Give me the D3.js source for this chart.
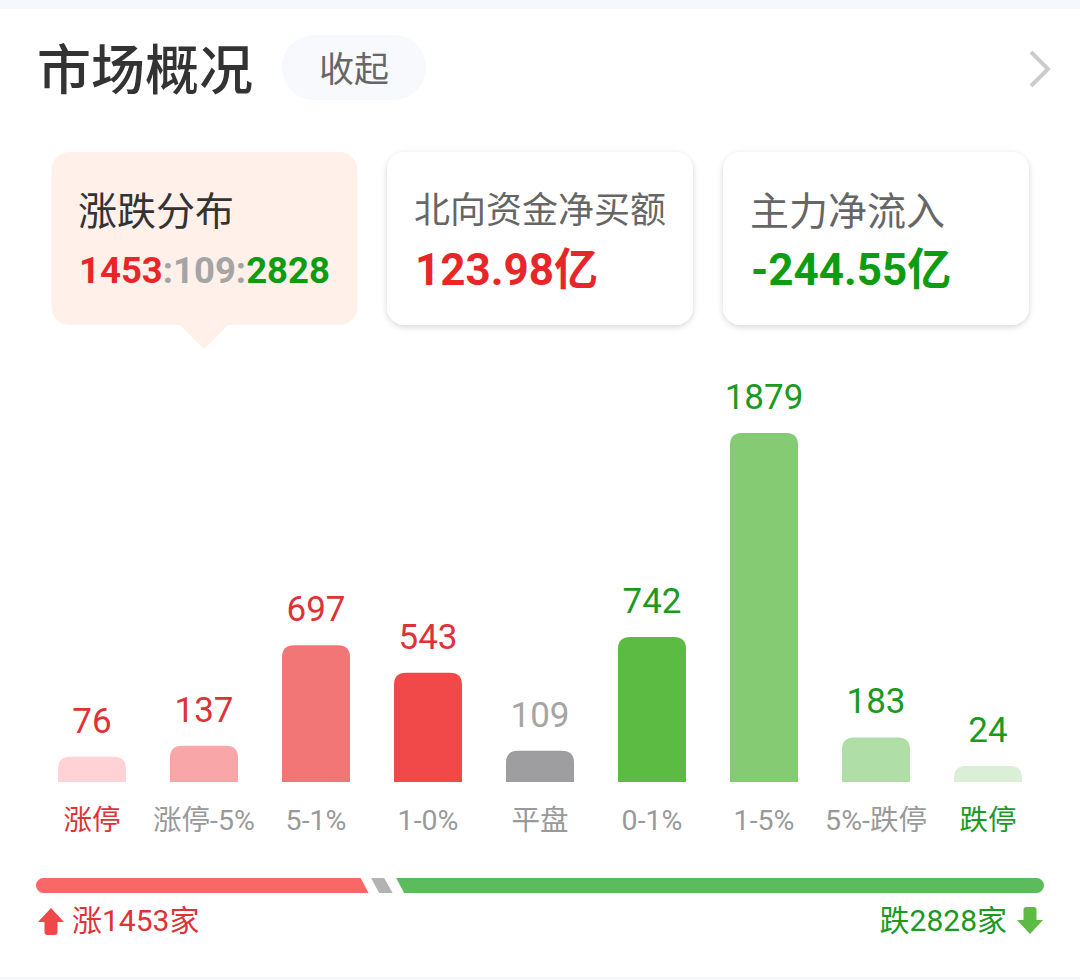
<!DOCTYPE html>
<html>
<head>
<meta charset="utf-8">
<script src="https://cdn.jsdelivr.net/npm/d3@7"></script>
<style>
  html, body { margin: 0; padding: 0; background: #fff; }
  svg { display: block; }
  text { font-family: Roboto, "Noto Sans CJK SC", sans-serif; }
</style>
</head>
<body>
<div id="chart"></div>
<script>
const categories = ['涨停', '涨停-5%', '5-1%', '1-0%', '平盘', '0-1%', '1-5%', '5%-跌停', '跌停'];
const counts = [76, 137, 697, 543, 109, 742, 1879, 183, 24];
const breadth = [1453, 109, 2828];
const northbound = '123.98亿';
const mainFlow = '-244.55亿';

const RED = '#e8262a';
const SOFT_RED = '#de3237';
const GREEN = '#0d9c12';
const SOFT_GREEN = '#1a9a1f';
const GREY = '#a5a5a5';
const barColors = ['#ffd3d6', '#f9a6a8', '#f27675', '#f1484a', '#9e9da0', '#5cbb43', '#85cb73', '#afdfa6', '#daefd6'];
const valueColors = [SOFT_RED, SOFT_RED, SOFT_RED, SOFT_RED, GREY, SOFT_GREEN, SOFT_GREEN, SOFT_GREEN, SOFT_GREEN];

const width = 1080;
const height = 980;
const baseline = 782;

const svg = d3.select('#chart').append('svg')
  .attr('width', width)
  .attr('height', height);

const defs = svg.append('defs');
const shadow = defs.append('filter').attr('id', 'card-shadow')
  .attr('x', '-10%').attr('y', '-10%').attr('width', '120%').attr('height', '125%');
shadow.append('feDropShadow')
  .attr('dx', 0).attr('dy', 2).attr('stdDeviation', 3)
  .attr('flood-color', '#000').attr('flood-opacity', 0.16);

// page bands top and bottom
svg.append('rect').attr('width', width).attr('height', 9).attr('fill', '#f5f8fd');
svg.append('rect').attr('y', 977).attr('width', width).attr('height', 3).attr('fill', '#f5f8fd');

// header
svg.append('text').attr('x', 37).attr('y', 90)
  .attr('font-size', 54).attr('font-weight', 500).attr('fill', '#333')
  .text('市场概况');
svg.append('rect').attr('x', 282).attr('y', 35).attr('width', 144).attr('height', 65).attr('rx', 32)
  .attr('fill', '#f7f9fd');
svg.append('text').attr('x', 354).attr('y', 82).attr('text-anchor', 'middle')
  .attr('font-size', 35).attr('fill', '#666')
  .text('收起');
svg.append('path').attr('d', 'M1031,52L1048,69L1031,86')
  .attr('fill', 'none').attr('stroke', '#ccc').attr('stroke-width', 4);

// summary cards
const card = (x, fill, useShadow) => svg.append('rect')
  .attr('x', x).attr('y', 152).attr('width', 306).attr('height', 173).attr('rx', 18)
  .attr('fill', fill)
  .attr('filter', useShadow ? 'url(#card-shadow)' : null);

card(51.5, '#fff0ea', false);
svg.append('path').attr('d', 'M180,325L204,349L228,325Z').attr('fill', '#fff0ea');
card(387, '#fff', true);
card(723, '#fff', true);

svg.append('text').attr('x', 78).attr('y', 225).attr('font-size', 39).attr('fill', '#333').text('涨跌分布');
svg.append('text').attr('x', 414).attr('y', 223).attr('font-size', 36).attr('fill', '#666').text('北向资金净买额');
svg.append('text').attr('x', 750).attr('y', 225).attr('font-size', 39).attr('fill', '#666').text('主力净流入');

const ratio = svg.append('text').attr('x', 79).attr('y', 283)
  .attr('font-size', 36.5).attr('font-weight', 700);
ratio.append('tspan').attr('fill', RED).text(breadth[0]);
ratio.append('tspan').attr('fill', GREY).text(`:${breadth[1]}:`);
ratio.append('tspan').attr('fill', GREEN).text(breadth[2]);

svg.append('text').attr('x', 415).attr('y', 285).attr('font-size', 44).attr('font-weight', 700)
  .attr('fill', RED).text(northbound);
svg.append('text').attr('x', 751).attr('y', 285).attr('font-size', 44).attr('font-weight', 700)
  .attr('fill', GREEN).text(mainFlow);

// bars
const xScale = d3.scaleBand()
  .domain(categories)
  .range([36, 1044])
  .paddingInner(44 / 112)
  .paddingOuter(22 / 112);

// bars keep a minimum stub, so zero sits above the baseline
const yScale = d3.scaleLinear()
  .domain([0, d3.max(counts)])
  .range([770.3, 433]);

const barColor = d3.scaleOrdinal(categories, barColors);
const valueColor = d3.scaleOrdinal(categories, valueColors);
const rows = categories.map((id, i) => ({ id, val: counts[i] }));

const barPath = d => {
  const x0 = xScale(d.id);
  const x1 = x0 + xScale.bandwidth();
  const y0 = yScale(d.val);
  const r = 12;
  return `M${x0},${baseline}V${y0 + r}Q${x0},${y0} ${x0 + r},${y0}H${x1 - r}Q${x1},${y0} ${x1},${y0 + r}V${baseline}Z`;
};

svg.selectAll('path.bar')
  .data(rows)
  .join('path')
  .attr('class', 'bar')
  .attr('d', barPath)
  .attr('fill', d => barColor(d.id));

svg.selectAll('text.val')
  .data(rows)
  .join('text')
  .attr('class', 'val')
  .attr('x', d => xScale(d.id) + xScale.bandwidth() / 2)
  .attr('y', d => yScale(d.val) - 24)
  .attr('text-anchor', 'middle')
  .attr('font-size', 35)
  .attr('fill', d => valueColor(d.id))
  .text(d => d.val);

const axis = svg.append('g')
  .attr('class', 'axis x')
  .attr('transform', `translate(0,${baseline})`)
  .call(d3.axisBottom(xScale).tickSize(0));

axis.select('.domain').remove();
axis.selectAll('.tick text')
  .attr('y', 0)
  .attr('dy', 48)
  .attr('font-size', 28.5)
  .attr('font-family', 'Roboto, "Noto Sans CJK SC", sans-serif')
  .attr('fill', d => (d === '涨停' ? SOFT_RED : d === '跌停' ? SOFT_GREEN : '#999'));

// breadth bar
const shareScale = d3.scaleLinear()
  .domain([0, d3.sum(breadth)])
  .range([36, 1044]);

const barTop = 878;
const barBottom = 893;
const slant = 8;
const cut1 = shareScale(breadth[0]);
const cut2 = shareScale(breadth[0] + breadth[1]);

svg.append('path')
  .attr('d', `M${cut1 - slant - 1},${barTop}L${cut1 - 1},${barBottom}H43.5A7.5,7.5 0 0 1 43.5,${barTop}Z`)
  .attr('fill', '#f96767');
svg.append('path')
  .attr('d', `M${cut1 + 1.5},${barTop}H${cut2 - slant - 2.5}L${cut2 - 2},${barBottom}H${cut1 + slant + 1.5}Z`)
  .attr('fill', '#b3b3b3');
svg.append('path')
  .attr('d', `M${cut2 + 1.5},${barTop}H1036.5A7.5,7.5 0 0 1 1036.5,${barBottom}H${cut2 + slant + 1.5}Z`)
  .attr('fill', '#5cbb5c');

svg.append('path')
  .attr('d', 'M51,908L64,922H57.5V932Q57.5,935 54.5,935H47.5Q44.5,935 44.5,932V922H38Z')
  .attr('fill', '#f0474a');
svg.append('path')
  .attr('d', 'M1030,934L1043,920H1036.5V910Q1036.5,907 1033.5,907H1026.5Q1023.5,907 1023.5,910V920H1017Z')
  .attr('fill', '#5cbb43');

svg.append('text').attr('x', 72).attr('y', 931).attr('font-size', 30).attr('fill', SOFT_RED)
  .text(`涨${breadth[0]}家`);
svg.append('text').attr('x', 1007).attr('y', 931).attr('text-anchor', 'end').attr('font-size', 30).attr('fill', SOFT_GREEN)
  .text(`跌${breadth[2]}家`);
</script>
</body>
</html>
